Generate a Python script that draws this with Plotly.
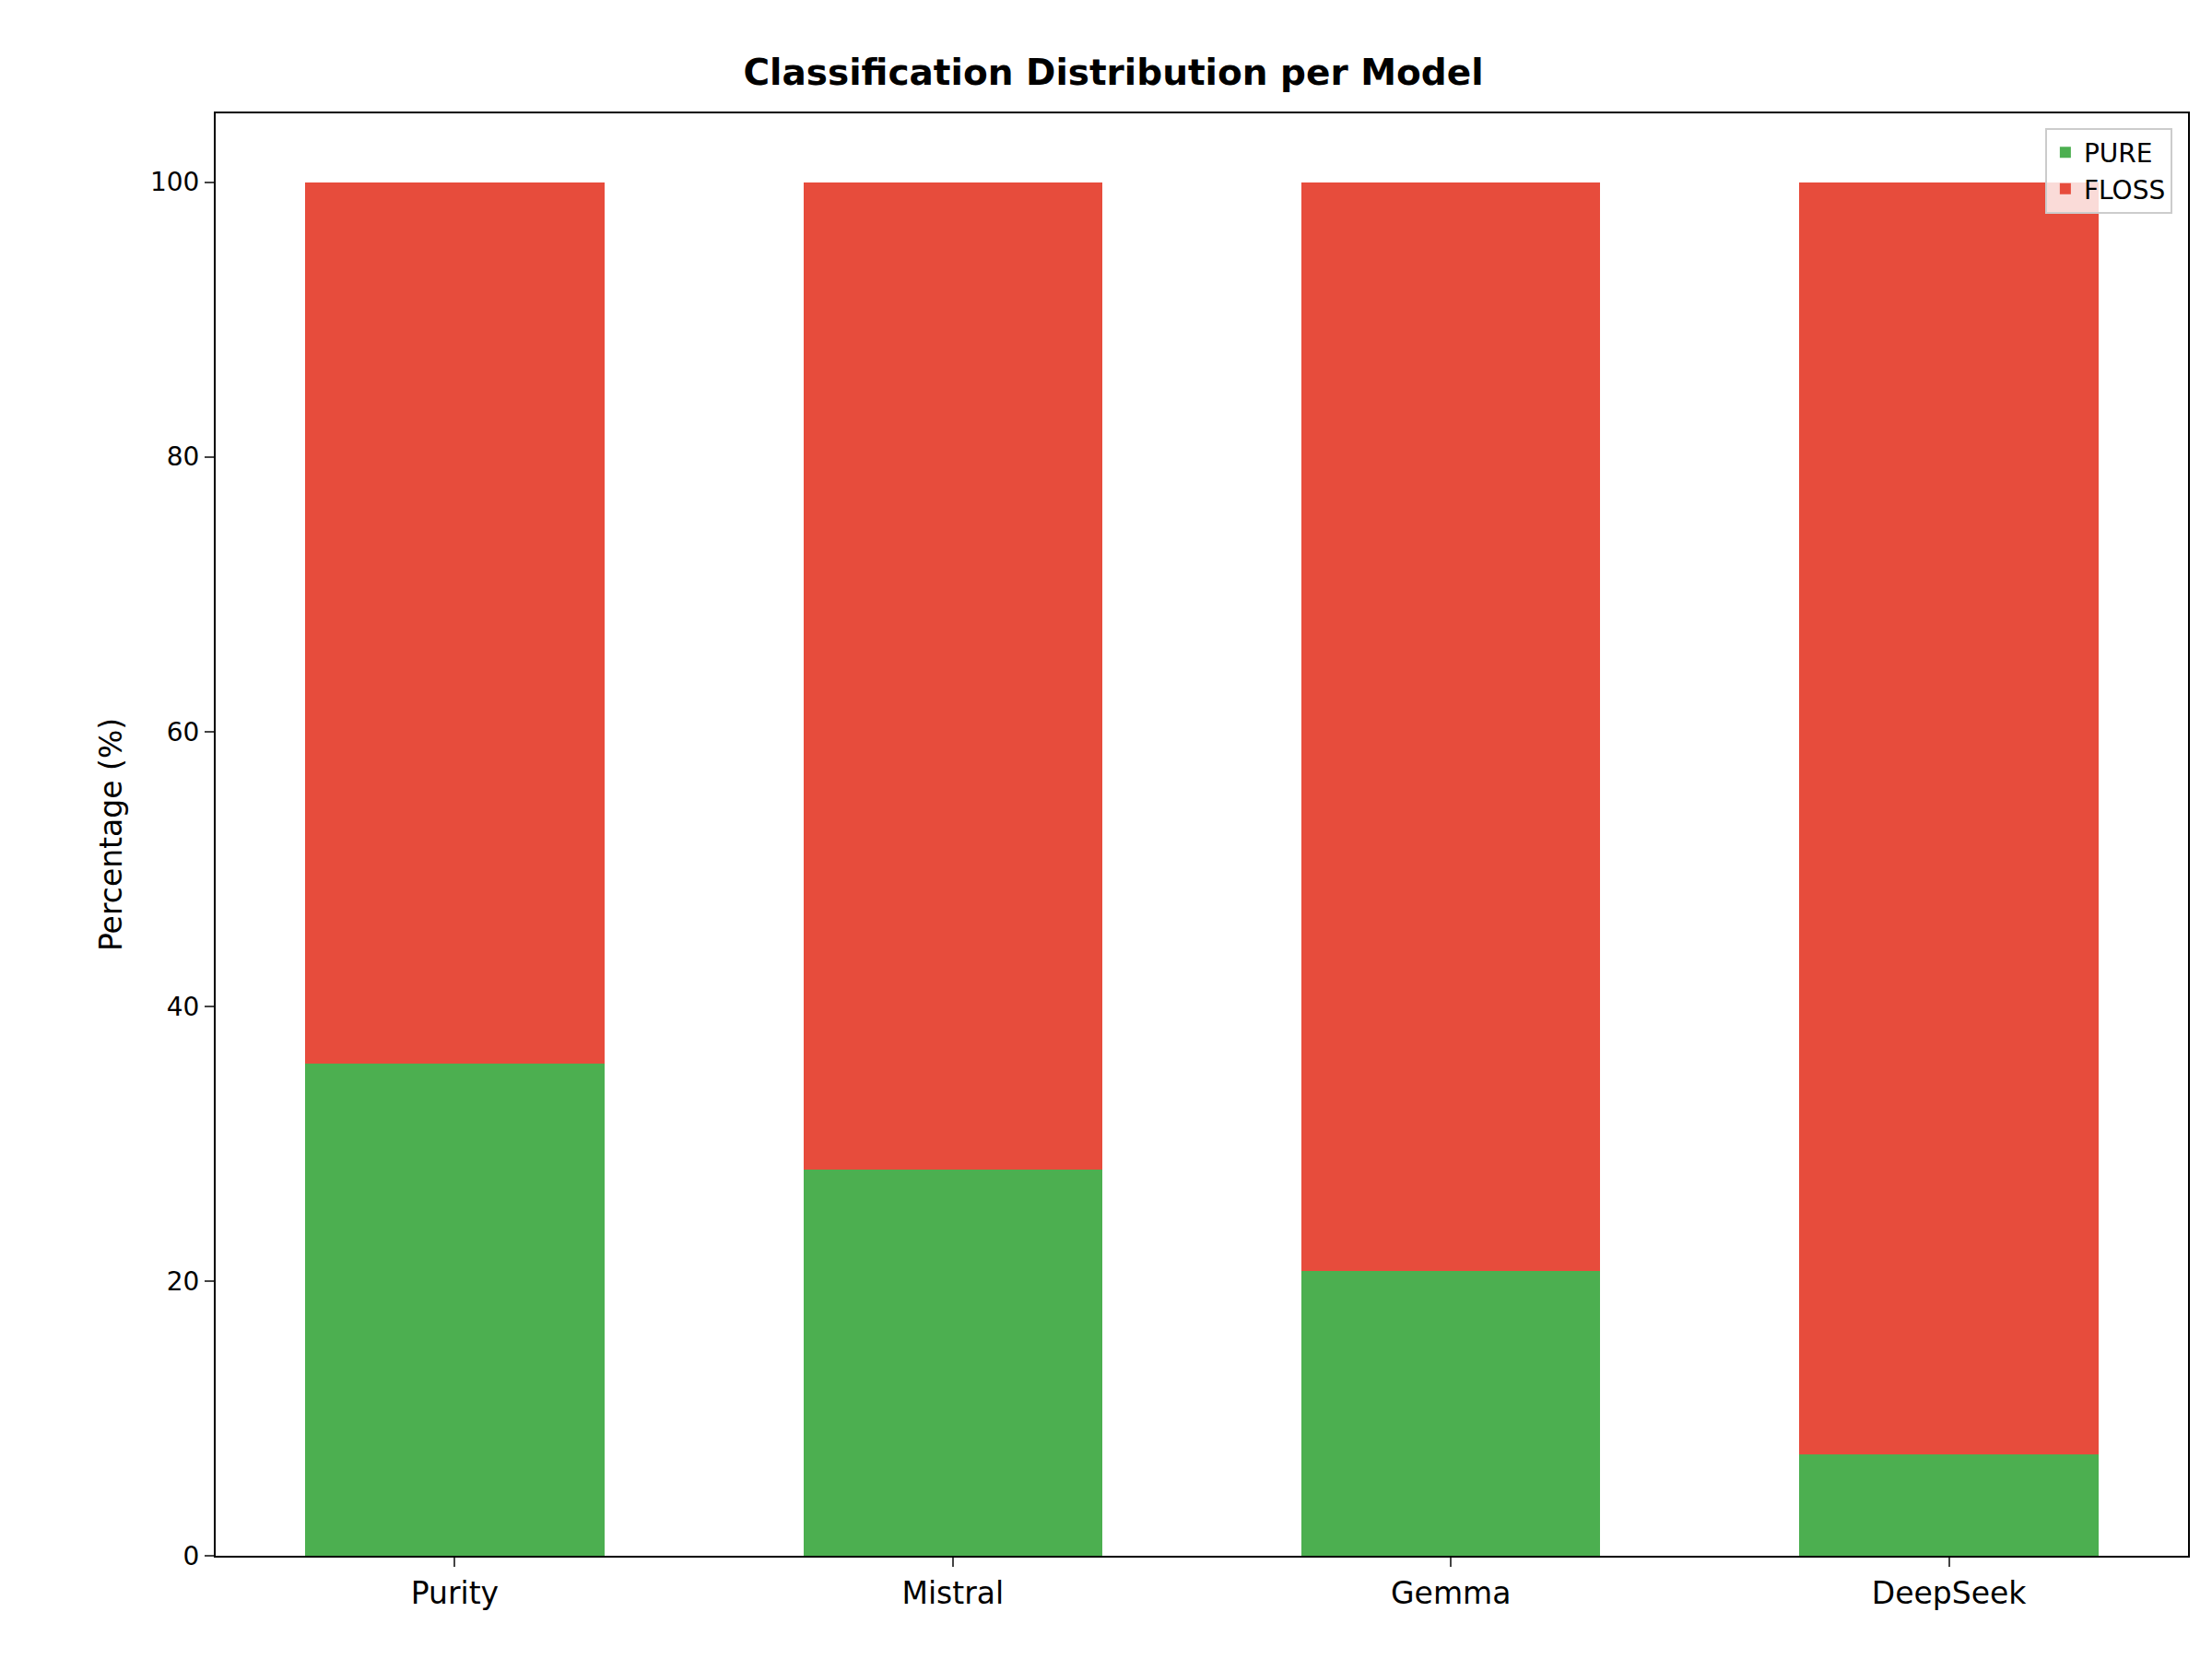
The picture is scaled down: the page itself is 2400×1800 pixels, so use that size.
import plotly.graph_objects as go

models = ["Purity", "Mistral", "Gemma", "DeepSeek"]
pure = [35.8, 28.1, 20.7, 7.4]
floss = [100 - p for p in pure]

fig = go.Figure()
fig.add_trace(go.Bar(x=[0, 1, 2, 3], y=pure, name="PURE", marker_color="#4caf50",
                     width=0.6, marker_line_width=0))
fig.add_trace(go.Bar(x=[0, 1, 2, 3], y=floss, name="FLOSS", marker_color="#e74c3c",
                     width=0.6, marker_line_width=0))

fig.update_layout(
    barmode="stack",
    width=2400, height=1800,
    margin=dict(l=226, r=34, t=115, b=120),
    paper_bgcolor="white", plot_bgcolor="white",
    font=dict(family="DejaVu Sans", size=28, color="black"),
    title=dict(text="<b>Classification Distribution per Model</b>", x=0.5, xanchor="center",
               y=1 - 70 / 1800, yanchor="middle", font=dict(size=39)),
    xaxis=dict(range=[-0.48, 3.48], tickvals=[0, 1, 2, 3], ticktext=models,
               tickfont=dict(size=33), showline=True, linecolor="black", linewidth=2,
               mirror=True, ticks="outside", ticklen=10, tickwidth=2, showgrid=False),
    yaxis=dict(range=[0, 105], tickvals=[0, 20, 40, 60, 80, 100], showline=True,
               linecolor="black", linewidth=2, mirror=True, ticks="outside", ticklen=10,
               tickwidth=2, showgrid=False, zeroline=False,
               title=dict(text="Percentage (%)", font=dict(size=33), standoff=20)),
    legend=dict(x=0.992, y=0.99, xanchor="right", yanchor="top", bgcolor="rgba(255,255,255,0.8)",
                bordercolor="#cccccc", borderwidth=2, font=dict(size=28), traceorder="normal"),
)

fig.write_html("out.html")
